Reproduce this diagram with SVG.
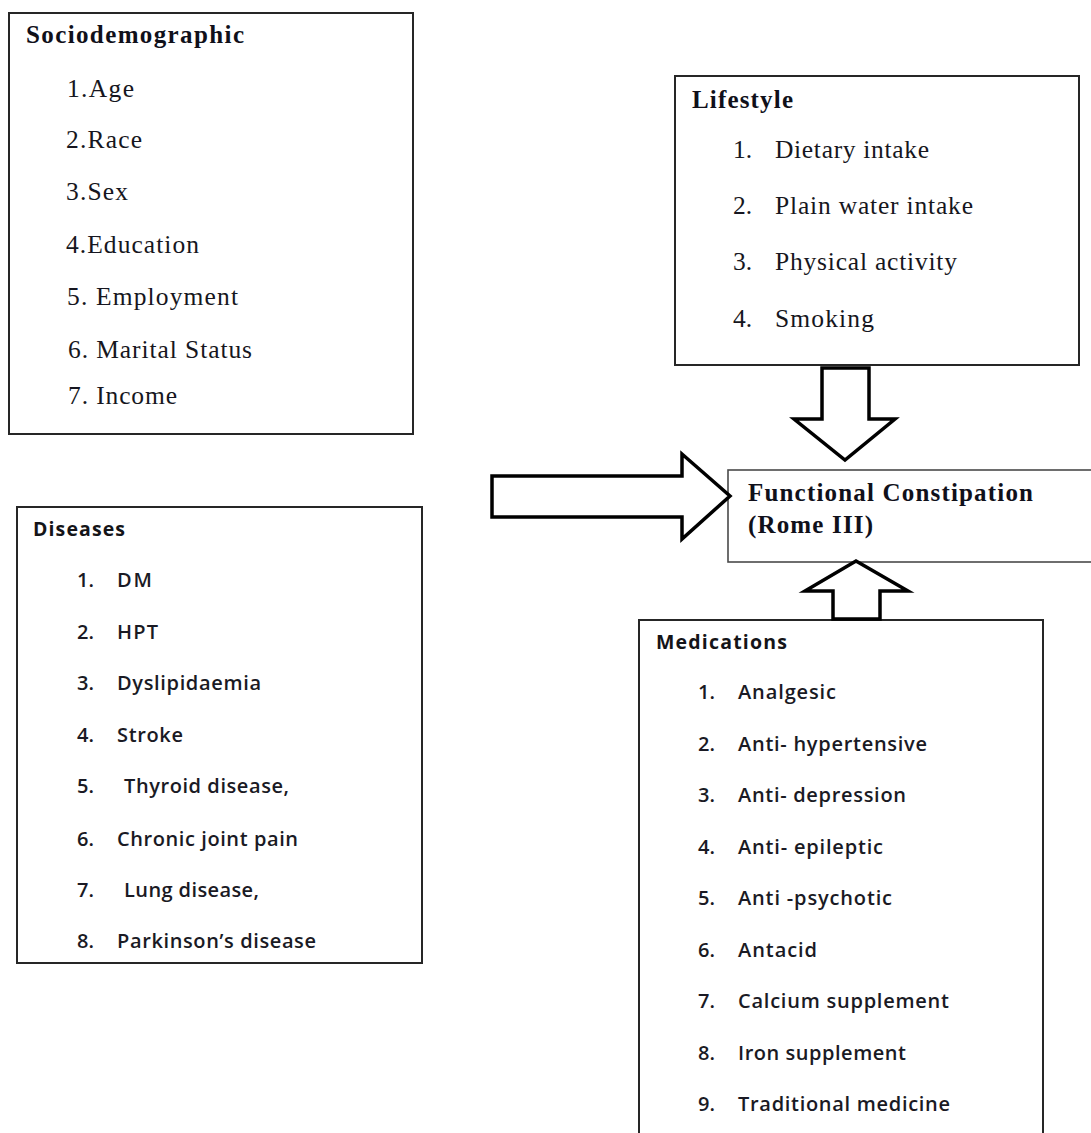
<svg xmlns="http://www.w3.org/2000/svg" width="1091" height="1133" viewBox="0 0 1091 1133">
<style>
.box{fill:#fff;stroke:#262626;stroke-width:2}
.fbox{fill:#fff;stroke:#4a4a4a;stroke-width:1.6}
.arr{fill:#fff;stroke:#000;stroke-width:3.5;stroke-linejoin:miter}
.st{font-family:"Liberation Serif","Times New Roman",serif;font-size:25.5px;fill:#161620}
.stb{font-family:"Liberation Serif","Times New Roman",serif;font-size:25px;font-weight:bold;fill:#10101a}
.ss{font-family:"Open Sans","Liberation Sans",Arial,sans-serif;font-size:20px;font-weight:600;fill:#1a1a24}
.ssb{font-family:"Open Sans","Liberation Sans",Arial,sans-serif;font-size:19.5px;font-weight:700;fill:#141418}
</style>
<rect width="1091" height="1133" fill="#fff"/>

<g id="sociodemographic">
<rect class="box" x="9" y="13" width="404" height="421"/>
<text class="stb" x="26" y="43" textLength="218" lengthAdjust="spacing">Sociodemographic</text>
<text class="st" x="67" y="97" textLength="67" lengthAdjust="spacing">1.Age</text>
<text class="st" x="66" y="148" textLength="76" lengthAdjust="spacing">2.Race</text>
<text class="st" x="66" y="200" textLength="62" lengthAdjust="spacing">3.Sex</text>
<text class="st" x="66" y="253" textLength="133" lengthAdjust="spacing">4.Education</text>
<text class="st" x="67" y="305" textLength="171" lengthAdjust="spacing">5. Employment</text>
<text class="st" x="68" y="358" textLength="184" lengthAdjust="spacing">6. Marital Status</text>
<text class="st" x="68" y="404" textLength="109" lengthAdjust="spacing">7. Income</text>
</g>

<g id="lifestyle">
<rect class="box" x="675" y="76" width="404" height="289"/>
<text class="stb" x="692" y="108" textLength="101" lengthAdjust="spacing">Lifestyle</text>
<text class="st" x="733" y="158">1.</text>
<text class="st" x="775" y="158" textLength="154" lengthAdjust="spacing">Dietary intake</text>
<text class="st" x="733" y="214">2.</text>
<text class="st" x="775" y="214" textLength="198" lengthAdjust="spacing">Plain water intake</text>
<text class="st" x="733" y="270">3.</text>
<text class="st" x="775" y="270" textLength="182" lengthAdjust="spacing">Physical activity</text>
<text class="st" x="733" y="327">4.</text>
<text class="st" x="775" y="327" textLength="99" lengthAdjust="spacing">Smoking</text>
</g>

<g id="functional-constipation">
<rect class="fbox" x="728" y="470" width="380" height="92"/>
<text class="stb" x="748" y="501" textLength="285" lengthAdjust="spacing">Functional Constipation</text>
<text class="stb" x="748" y="533" textLength="125" lengthAdjust="spacing">(Rome III)</text>
</g>

<g id="diseases">
<rect class="box" x="17" y="507" width="405" height="456"/>
<text class="ssb" x="33" y="536" textLength="92" lengthAdjust="spacing">Diseases</text>
<text class="ss" x="77" y="587">1.</text>
<text class="ss" x="117" y="587" textLength="35" lengthAdjust="spacing">DM</text>
<text class="ss" x="77" y="639">2.</text>
<text class="ss" x="117" y="639" textLength="41" lengthAdjust="spacing">HPT</text>
<text class="ss" x="77" y="690">3.</text>
<text class="ss" x="117" y="690" textLength="144" lengthAdjust="spacing">Dyslipidaemia</text>
<text class="ss" x="77" y="742">4.</text>
<text class="ss" x="117" y="742" textLength="66" lengthAdjust="spacing">Stroke</text>
<text class="ss" x="77" y="793">5.</text>
<text class="ss" x="124" y="793" textLength="165" lengthAdjust="spacing">Thyroid disease,</text>
<text class="ss" x="77" y="846">6.</text>
<text class="ss" x="117" y="846" textLength="181" lengthAdjust="spacing">Chronic joint pain</text>
<text class="ss" x="77" y="897">7.</text>
<text class="ss" x="124" y="897" textLength="135" lengthAdjust="spacing">Lung disease,</text>
<text class="ss" x="77" y="948">8.</text>
<text class="ss" x="117" y="948" textLength="199" lengthAdjust="spacing">Parkinson’s disease</text>
</g>

<g id="medications">
<rect class="box" x="639" y="620" width="404" height="530"/>
<text class="ssb" x="656" y="649" textLength="131" lengthAdjust="spacing">Medications</text>
<text class="ss" x="698" y="699">1.</text>
<text class="ss" x="738" y="699" textLength="98" lengthAdjust="spacing">Analgesic</text>
<text class="ss" x="698" y="751">2.</text>
<text class="ss" x="738" y="751" textLength="189" lengthAdjust="spacing">Anti- hypertensive</text>
<text class="ss" x="698" y="802">3.</text>
<text class="ss" x="738" y="802" textLength="168" lengthAdjust="spacing">Anti- depression</text>
<text class="ss" x="698" y="854">4.</text>
<text class="ss" x="738" y="854" textLength="145" lengthAdjust="spacing">Anti- epileptic</text>
<text class="ss" x="698" y="905">5.</text>
<text class="ss" x="738" y="905" textLength="154" lengthAdjust="spacing">Anti -psychotic</text>
<text class="ss" x="698" y="957">6.</text>
<text class="ss" x="738" y="957" textLength="79" lengthAdjust="spacing">Antacid</text>
<text class="ss" x="698" y="1008">7.</text>
<text class="ss" x="738" y="1008" textLength="211" lengthAdjust="spacing">Calcium supplement</text>
<text class="ss" x="698" y="1060">8.</text>
<text class="ss" x="738" y="1060" textLength="168" lengthAdjust="spacing">Iron supplement</text>
<text class="ss" x="698" y="1111">9.</text>
<text class="ss" x="738" y="1111" textLength="212" lengthAdjust="spacing">Traditional medicine</text>
</g>

<g id="connectors">
<polygon class="arr" points="822,368 869,368 869,419 895,419 845,460 794,419 822,419"/>
<polygon class="arr" points="492,476 682,476 682,454 730,496 682,539 682,517 492,517"/>
<polygon class="arr" points="856,561 908,591 880,591 880,619 833,619 833,591 805,591"/>
</g>
</svg>
